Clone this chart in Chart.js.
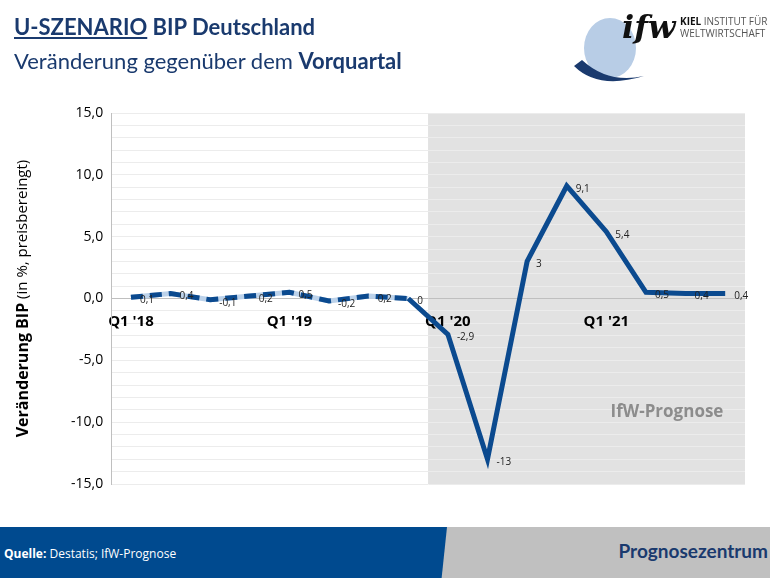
<!DOCTYPE html>
<html><head><meta charset="utf-8">
<script src="https://cdn.jsdelivr.net/npm/chart.js@4"></script>
<style>
  body { margin: 0; width: 770px; height: 578px; position: relative; overflow: hidden; background: #fff; font-family: Lato, "Open Sans", sans-serif; }
  #c { position: absolute; left: 0; top: 0; }
  .t1 { position: absolute; left: 14px; top: 13px; font-size: 22px; font-weight: bold; color: #1a3a6e; }
  .t2 { position: absolute; left: 14px; top: 47px; font-size: 22px; color: #1a3a6e; }
  .logo { position: absolute; left: 568px; top: 8px; width: 200px; height: 80px; }
  .foot { position: absolute; left: 0; top: 527px; width: 770px; height: 51px; background: #c0c0c0; }
  .foot .blue { position: absolute; left: 0; top: 0; height: 51px; width: 447px; background: #004a8f; clip-path: polygon(0 0, 100% 0, 98.8% 100%, 0 100%); }
  .src { position: absolute; left: 4px; top: 18px; font-size: 12px; color: #fff; font-family: "Open Sans", sans-serif; }
  .pz { position: absolute; right: 2px; top: 12px; font-size: 19px; font-weight: bold; color: #1a3a6e; }
</style></head>
<body>
<canvas id="c" width="770" height="578"></canvas>
<div class="t1"><u>U-SZENARIO</u> BIP Deutschland</div>
<div class="t2">Veränderung gegenüber dem <b>Vorquartal</b></div>
<svg class="logo" viewBox="0 0 200 80">
  <ellipse cx="42" cy="40" rx="26" ry="30" fill="#b8cde6"/>
  <path d="M6 58 Q 30 82 76 68 Q 40 76 14 52 Z" fill="#1a3a6e"/>
  <text x="54" y="30" font-family="DejaVu Serif" font-style="italic" font-weight="bold" font-size="32" fill="#111">ifw</text>
  <text x="112" y="17" font-family="Open Sans" font-size="10" fill="#555"><tspan font-weight="bold" fill="#111">KIEL</tspan> INSTITUT FÜR</text>
  <text x="112" y="29" font-family="Open Sans" font-size="10" fill="#555">WELTWIRTSCHAFT</text>
</svg>
<div class="foot"><div class="blue"></div>
  <div class="src"><b>Quelle:</b> Destatis; IfW-Prognose</div>
  <div class="pz">Prognosezentrum</div>
</div>
<script>
const quarters = ["Q1 '18","Q2 '18","Q3 '18","Q4 '18","Q1 '19","Q2 '19","Q3 '19","Q4 '19",
                  "Q1 '20","Q2 '20","Q3 '20","Q4 '20","Q1 '21","Q2 '21","Q3 '21","Q4 '21"];
const bip = [0.1, 0.4, -0.1, 0.2, 0.5, -0.2, 0.2, 0, -2.9, -13, 3, 9.1, 5.4, 0.5, 0.4, 0.4];
const histCount = 8; // Q1 '18 .. Q4 '19 observed, rest forecast
const hist = bip.map((v, i) => i < histCount ? v : null);
const fmt = v => String(v).replace('.', ',');

const decor = {
  id: 'decor',
  beforeDraw(chart) {
    const { ctx, chartArea: a, scales: { x } } = chart;
    const x0 = (x.getPixelForValue(histCount - 1) + x.getPixelForValue(histCount)) / 2;
    ctx.save();
    ctx.fillStyle = '#e2e2e2';
    ctx.fillRect(x0, a.top, a.right - x0, a.bottom - a.top);
    // y axis title
    ctx.translate(23, (a.top + a.bottom) / 2);
    ctx.rotate(-Math.PI / 2);
    ctx.fillStyle = '#000';
    ctx.textBaseline = 'middle';
    ctx.font = 'bold 16px "Open Sans"';
    const p1 = 'Veränderung BIP', p2 = ' (in %, preisbereingt)';
    const w1 = ctx.measureText(p1).width;
    ctx.font = '15px "Open Sans"';
    const w2 = ctx.measureText(p2).width;
    ctx.textAlign = 'left';
    ctx.font = 'bold 16px "Open Sans"';
    ctx.fillText(p1, -(w1 + w2) / 2, 0);
    ctx.font = '15px "Open Sans"';
    ctx.fillText(p2, -(w1 + w2) / 2 + w1, 0);
    ctx.restore();
  },
  beforeDatasetsDraw(chart) {
    const { ctx } = chart;
    ctx.save();
    ctx.fillStyle = '#8c8c8c';
    ctx.font = 'bold 17px "Open Sans"';
    ctx.textAlign = 'center';
    ctx.fillText('IfW-Prognose', 667, 417);
    ctx.restore();
  },
  afterDatasetsDraw(chart) {
    const { ctx } = chart;
    const meta = chart.getDatasetMeta(0);
    ctx.save();
    ctx.font = '10px "Open Sans"';
    ctx.fillStyle = '#222';
    ctx.textBaseline = 'middle';
    meta.data.forEach((pt, i) => {
      ctx.fillText(fmt(bip[i]), pt.x + 9, pt.y + 3);
    });
    ctx.restore();
  }
};

new Chart(document.getElementById('c'), {
  type: 'line',
  data: {
    labels: quarters,
    datasets: [
      { data: bip, borderColor: '#0b4a8f', borderWidth: 5, pointRadius: 0, tension: 0,
        segment: { borderDash: c => c.p1DataIndex < histCount ? [12, 7] : undefined } },
      { data: hist, borderColor: '#bcd2ea', borderWidth: 5, pointRadius: 0, tension: 0, order: 2 }
    ]
  },
  options: {
    responsive: false,
    animation: false,
    layout: { padding: { left: 63, top: 113, right: 25, bottom: 94 } },
    plugins: { legend: { display: false }, tooltip: { enabled: false } },
    scales: {
      x: {
        position: { y: 0 },
        offset: true,
        grid: { display: false },
        border: { color: '#bfbfbf' },
        ticks: {
          autoSkip: false, maxRotation: 0, color: '#000', padding: 6,
          font: { family: 'Open Sans', size: 15, weight: 'bold' },
          callback: (v, i) => quarters[i].startsWith('Q1') ? quarters[i] : ''
        }
      },
      y: {
        min: -15, max: 15,
        grid: { color: '#ececec', drawTicks: false },
        border: { color: '#bfbfbf' },
        ticks: { stepSize: 1, autoSkip: false, color: '#000', padding: 8,
          font: { family: 'Open Sans', size: 14 },
          callback: v => v % 5 === 0 ? v.toFixed(1).replace('.', ',') : '' }
      }
    }
  },
  plugins: [decor]
});
</script>
</body></html>
